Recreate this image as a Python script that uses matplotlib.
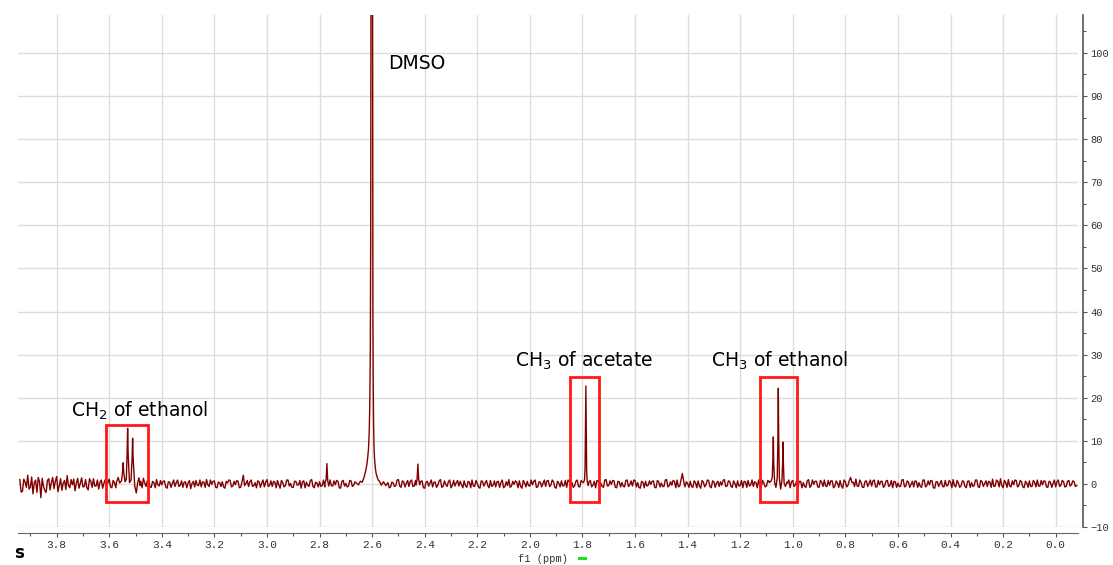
import numpy as np
import matplotlib.pyplot as plt
from matplotlib.patches import Rectangle
from matplotlib.ticker import MultipleLocator, FormatStrFormatter

plt.rcParams['font.family'] = ['DejaVu Sans']
plt.rcParams['mathtext.fontset'] = 'custom'
plt.rcParams['mathtext.rm'] = 'DejaVu Sans'

# baseline noise, one value every 0.01 ppm (3.94 -> -0.08)
base_noise = [
    1.0, -1.7, 0.4, 2.0, -0.8, -2.3, 0.9, 1.5, -3.2, -0.6,
    -2.0, 1.2, 0.3, -1.1, 1.7, -0.4, -1.5, 0.8, 1.9, -0.9,
    -0.2, -1.6, 1.3, 0.1, -0.7, 1.0, -1.4, 0.6, 1.2, -0.5,
    -1.2, 0.9, 0.2, -0.6, 1.1, -0.9, 0.3, -1.1, 0.7, 0.1,
    0.2, -0.6, 0.5, -0.4, 0.3, -0.7, 0.6, 1.3, -0.6, 0.9,
    -0.8, 0.3, 1.0, -0.5, -0.2, 0.7, -1.0, 0.4, 0.1, -0.6,
    0.9, -0.3, -0.8, 0.5, 0.2, -1.1, 0.6, 0.8, -0.4, -0.7,
    0.4, 1.0, -0.6, -0.1, 0.7, -0.9, 0.3, 0.5, -1.0, 0.2,
    0.8, -0.5, -0.2, 0.6, -0.8, 2.0, 0.1, -0.6, 0.9, -0.4,
    -0.9, 0.5, 0.2, -0.7, 1.0, -0.3, -0.6, 0.4, 0.8, -1.0,
    0.3, -0.4, 0.9, 0.1, -0.8, 0.6, -0.2, -1.0, 0.7, 0.4,
    -0.6, 1.0, -0.9, 0.2, 0.5, -0.4, -0.7, 0.3, 0.9, -0.5,
    -0.2, 0.6, -1.0, 0.8, 0.1, -0.5, 0.7, -0.3, -0.8, 0.5,
    0.5, -0.3, 0.6, -0.4, 0.5, -0.3, 0.4, -0.5, 0.6, -0.4,
    0.8, -0.7, 0.2, -0.4, 1.0, -0.8, 0.5, 0.1, -0.6, 0.9,
    -0.5, 0.3, -0.2, 0.7, -1.0, 0.6, 0.2, -0.7, 0.4, -0.3,
    1.0, -0.6, -0.1, 0.5, -0.9, 0.8, 0.3, -0.5, -0.2, 0.7,
    -0.8, 0.4, 0.9, -0.6, 0.1, -1.0, 0.6, 0.2, -0.4, 0.8,
    -0.3, -0.7, 0.6, 0.3, -0.9, 0.5, 1.0, -0.5, -0.1, 0.4,
    0.7, -1.0, 0.2, 0.6, -0.5, -0.2, 0.9, -0.7, 0.4, 0.1,
    -0.6, 0.8, -0.3, 0.5, -1.0, 0.2, 0.7, -0.4, -0.8, 0.6,
    0.3, -0.5, 0.9, -0.7, 0.4, 0.1, -0.6, 0.8, -0.3, -0.9,
    0.6, 0.2, -0.8, 1.0, -0.4, -0.1, 0.7, -0.9, 0.5, 0.3,
    -0.7, 0.9, -0.2, -0.5, 0.8, 0.3, -1.0, 0.4, 0.6, -0.3,
    -0.1, 0.7, -0.9, 0.5, 0.2, -0.6, 1.0, -0.4, -0.3, 0.6,
    0.9, -0.5, 2.4, -0.7, 0.1, 0.6, -0.8, 0.3, 0.7, -1.0,
    0.4, -0.2, 0.8, -0.9, 0.5, 0.2, -0.6, -0.3, 1.0, -0.5,
    0.6, -0.8, 0.1, 0.7, -0.4, -0.9, 0.5, 0.8, -0.2, -0.6,
    0.3, 0.9, -0.7, 0.2, -0.5, 0.6, -1.0, 0.4, 0.7, -0.3,
    -0.6, 0.5, 0.2, -0.9, 0.8, -0.2, -0.5, 0.6, 0.3, -0.8,
    1.0, -0.4, -0.1, 0.6, -0.8, 0.4, 0.9, -0.6, -0.3, 0.7,
    -0.5, 0.2, 0.8, -1.0, 0.5, -0.3, 1.5, 0.4, 1.1, -0.6,
    0.3, -0.8, 0.7, 0.1, -0.5, 0.9, -0.7, -0.2, 0.6, -0.4,
    0.8, -0.3, -0.9, 0.5, 0.2, -0.6, 1.0, -0.5, 0.4, -0.1,
    -0.7, 0.6, 0.3, -0.8, 0.9, -0.4, -0.2, 0.7, -1.0, 0.5,
    0.1, -0.6, 0.8, -0.3, 0.4, 1.0, -0.7, 0.2, -0.5, 0.6,
    -0.9, 0.7, 0.3, -0.4, 0.9, -0.8, 0.5, 0.1, -0.6, 0.4,
    1.1, -0.5, 0.6, 1.2, -0.9, 0.3, 1.0, -0.7, -0.2, 0.8,
    -0.4, 0.5, -0.9, 0.2, 0.7, -0.6, 0.3, 0.9, -0.5, -0.2,
    0.6, -0.8, 0.4, 0.1, -0.7, 0.9, -0.3, 0.5, -0.6, 0.8,
    -0.2, 0.5, -0.4,
]
base_ppm = np.linspace(3.94, -0.08, len(base_noise))

# noise between those samples (3.935 -> -0.075)
mid_noise = [
    -1.9, 1.1, -0.8, -1.2, 1.6, 0.3, -2.0, 0.5, 1.3, -1.5,
    0.8, -1.4, 1.5, 0.6, -1.8, 1.2, 0.2, -1.3, -0.4, 1.0,
    1.1, 0.2, -1.0, 1.4, -0.6, -0.9, 1.2, -0.8, -0.5, 0.9,
    0.4, -1.0, 1.0, 0.3, -0.7, 0.8, -0.9, 0.5, -0.4, 0.9,
    -0.5, 0.7, -0.8, 0.4, 1.0, -0.3, -0.9, 0.2, 0.8, -0.7,
    0.6, -0.9, -0.2, 0.8, 0.6, -0.7, 0.5, -0.8, 0.9, 0.3,
    -0.6, 0.7, 0.4, -0.9, 0.8, 0.1, -0.7, -0.3, 0.9, 0.5,
    -0.8, -0.2, 0.9, 0.6, -0.8, 0.4, -0.6, -0.7, 0.6, 0.9,
    -0.7, 0.6, 0.8, -0.9, 0.5, -0.4, 0.8, 0.5, -0.6, 0.3,
    0.7, -0.8, 0.9, 0.4, -0.6, 0.7, 0.6, -0.9, -0.2, 0.8,
    -0.7, 0.9, -0.5, -0.8, 0.6, -0.3, 0.8, 0.5, -0.9, -0.3,
    0.8, -0.6, 0.4, -0.7, -0.6, 0.9, 0.5, -0.8, -0.4, 0.7,
    0.8, -0.9, 0.6, -0.5, -0.7, 0.8, -0.6, 0.5, 0.7, -0.8,
    -0.4, 0.5, -0.5, 0.6, -0.4, 0.6, -0.5, 0.4, -0.5, 0.6,
    -0.9, 0.4, -0.6, 0.9, -0.5, 0.7, -0.7, 0.8, 0.6, -0.6,
    0.8, -0.7, 0.6, -0.9, 0.4, -0.5, 0.9, 0.4, -0.8, 0.7,
    -0.8, 0.7, -0.6, 0.9, -0.4, -0.5, 0.8, 0.6, -0.9, -0.4,
    0.6, -0.9, -0.5, 0.8, -0.7, 0.7, -0.5, 0.8, -0.9, -0.6,
    0.7, 0.5, -0.8, 0.9, -0.6, -0.4, -0.8, 0.6, 0.7, -0.9,
    -0.6, 0.8, -0.7, -0.4, 0.9, 0.6, -0.8, 0.5, -0.7, 0.9,
    0.7, -0.6, 0.9, -0.8, 0.6, -0.7, -0.5, 0.8, 0.9, -0.4,
    -0.8, 0.6, -0.6, 0.8, -0.9, 0.7, 0.5, -0.7, 0.6, 0.8,
    -0.7, -0.6, 0.9, -0.5, 0.7, 0.8, -0.8, 0.6, -0.7, -0.5,
    0.8, -0.6, 0.7, 0.9, -0.7, -0.8, 0.6, -0.9, -0.5, 0.7,
    0.6, -0.8, 0.8, -0.7, -0.6, 0.9, -0.7, 0.5, 0.8, -0.9,
    -0.7, 0.9, 0.6, 0.5, -0.8, -0.6, 0.7, -0.9, -0.5, 0.8,
    -0.7, 0.9, -0.6, 0.7, -0.8, 0.6, 0.5, 0.8, -0.6, 0.7,
    -0.6, 0.7, -0.9, -0.5, 0.8, 0.6, -0.8, -0.5, 0.9, 0.5,
    -0.9, -0.4, 0.8, -0.7, 0.8, -0.6, 0.7, -0.8, -0.5, 0.9,
    0.7, -0.8, 0.9, 0.5, -0.6, 0.7, 0.6, -0.9, -0.6, 0.7,
    -0.8, 0.9, 0.6, -0.7, 0.8, -0.6, -0.5, 0.8, 0.7, -0.9,
    0.7, -0.8, -0.5, 0.9, -0.7, 0.8, 0.3, -0.6, -0.5, 0.9,
    -0.8, 0.6, -0.6, 0.9, 0.7, -0.7, 0.8, 0.6, -0.8, 0.7,
    -0.6, 0.8, 0.6, -0.8, -0.6, 0.9, -0.7, 0.7, -0.8, 0.6,
    0.7, -0.8, -0.6, 0.9, -0.7, 0.7, 0.8, -0.9, 0.5, -0.6,
    0.8, -0.7, -0.5, 0.8, -0.9, -0.4, 0.8, -0.8, 0.7, -0.6,
    0.6, -0.8, -0.6, 0.9, -0.7, 0.8, -0.6, 0.7, 0.6, -0.8,
    -0.6, 0.9, -0.7, -0.4, 0.8, -0.8, -0.5, 0.7, 0.9, -0.7,
    0.8, -0.7, 0.6, -0.8, -0.6, 0.8, -0.7, -0.5, 0.8, 0.7,
    -0.7, 0.6, -0.8, 0.9, 0.5, -0.6, 0.8, -0.7, 0.6, -0.5,
    0.7, -0.6,
]
mid_ppm = np.linspace(3.935, -0.075, len(mid_noise))

# CH2 of ethanol (quartet)
ch2_ppm = [3.572, 3.566, 3.560, 3.553, 3.549, 3.547, 3.545, 3.540, 3.535, 3.532,
           3.530, 3.528, 3.523, 3.517, 3.513, 3.511, 3.509, 3.503, 3.497, 3.492,
           3.487, 3.482]
ch2_int = [0.4, 1.5, 0.2, 0.8, 3.0, 4.9, 2.8, 0.5, 1.0, 7.0,
           12.9, 7.0, 0.3, 0.9, 6.0, 10.6, 6.0, -0.5, -2.1, 0.2,
           1.4, -0.4]

# DMSO
dmso_ppm = [2.662, 2.652, 2.645, 2.638, 2.632, 2.628, 2.624, 2.620, 2.617, 2.614,
            2.611, 2.609, 2.607, 2.6055, 2.6045, 2.6035, 2.603, 2.602, 2.601,
            2.600, 2.599, 2.5985, 2.598, 2.5975, 2.597, 2.596, 2.5945, 2.593,
            2.591, 2.588, 2.585, 2.581, 2.577, 2.572, 2.565, 2.557, 2.548, 2.540]
dmso_int = [0.3, -0.2, 0.6, 0.4, 1.3, 2.2, 3.2, 4.5, 6.0, 8.0,
            12.0, 18.0, 30.0, 55.0, 100.0, 160.0, 220.0, 500.0, 1000.0,
            500.0, 200.0, 130.0, 90.0, 60.0, 40.0, 25.0, 14.0, 9.0,
            6.0, 3.8, 2.5, 1.6, 0.9, 0.6, -0.3, 0.5, -0.4, 0.3]

# small impurity lines
imp1_ppm = [2.779, 2.775, 2.772, 2.769, 2.765]
imp1_int = [0.2, 1.0, 4.7, 0.8, -0.5]
imp2_ppm = [2.433, 2.429, 2.426, 2.423, 2.419]
imp2_int = [-0.3, 1.0, 4.6, 1.1, -0.2]

# CH3 of acetate (singlet)
ac_ppm = [1.796, 1.792, 1.790, 1.7885, 1.787, 1.7855, 1.784, 1.782, 1.778]
ac_int = [0.3, 1.0, 3.5, 12.0, 22.7, 12.0, 3.0, 0.6, -0.4]

# CH3 of ethanol (triplet)
ch3_ppm = [1.090, 1.083, 1.078, 1.0755, 1.074, 1.0725, 1.069, 1.064, 1.059, 1.0565,
           1.055, 1.0535, 1.051, 1.046, 1.041, 1.0385, 1.037, 1.0355, 1.033, 1.028,
           1.022]
ch3_int = [0.3, 0.6, 1.5, 6.0, 10.9, 5.0, 0.3, -0.8, 1.5, 11.0,
           22.2, 11.0, 1.2, -1.2, 1.0, 5.0, 9.7, 4.5, 0.2, -0.6,
           0.4]

# annotation boxes: (ppm left, ppm right, bottom, top)
box_ch2 = (3.613, 3.453, -4.3, 13.7)
box_ac = (1.849, 1.737, -4.3, 24.8)
box_ch3 = (1.124, 0.983, -4.3, 24.8)

# merge baseline and peak segments into one trace
peaks = [(ch2_ppm, ch2_int), (dmso_ppm, dmso_int), (imp1_ppm, imp1_int),
         (imp2_ppm, imp2_int), (ac_ppm, ac_int), (ch3_ppm, ch3_int)]
all_ppm = np.concatenate([base_ppm, mid_ppm])
all_noise = np.concatenate([base_noise, mid_noise])
keep = np.ones(len(all_ppm), dtype=bool)
for p, _ in peaks:
    keep &= ~((all_ppm <= max(p)) & (all_ppm >= min(p)))
ppm = np.concatenate([all_ppm[keep]] + [np.array(p) for p, _ in peaks])
inten = np.concatenate([all_noise[keep]] + [np.array(v) for _, v in peaks])
order = np.argsort(-ppm)
ppm, inten = ppm[order], inten[order]

fig = plt.figure(figsize=(11.13, 5.65), dpi=100)
ax = fig.add_axes([0.01617, 0.06726, 0.9524, 0.9062])

ax.plot(ppm, inten, color='#800000', lw=1.0)

ax.set_xlim(3.947, -0.085)
ax.set_ylim(-10, 108.8)

ax.xaxis.set_major_locator(MultipleLocator(0.2))
ax.xaxis.set_minor_locator(MultipleLocator(0.1))
ax.xaxis.set_major_formatter(FormatStrFormatter('%.1f'))
ax.yaxis.set_major_locator(MultipleLocator(10))
ax.yaxis.set_minor_locator(MultipleLocator(5))
ax.yaxis.tick_right()

ax.grid(True, which='major', color='#dcdcdc', lw=1.0)
ax.set_axisbelow(True)

for s in ['top', 'left']:
    ax.spines[s].set_visible(False)
ax.spines['bottom'].set_position(('outward', 4.3))
ax.spines['bottom'].set_color('#666666')
ax.spines['right'].set_position(('outward', 3.6))
ax.spines['right'].set_color('#555555')
ax.spines['right'].set_linewidth(1.2)

ax.tick_params(axis='both', which='major', length=3, width=0.8, color='#555555',
               labelcolor='#333333', pad=2)
ax.tick_params(axis='x', which='major', labelsize=8)
ax.tick_params(axis='y', which='major', labelsize=7.5)
ax.tick_params(axis='both', which='minor', length=2, width=0.8, color='#555555')
for lab in ax.get_xticklabels() + ax.get_yticklabels():
    lab.set_family('Liberation Mono')

ax.set_xlabel('f1 (ppm)', family='Liberation Mono', fontsize=7.5, color='#333333')
ax.xaxis.set_label_coords(0.495, -0.053)

for x0, x1, y0, y1 in [box_ch2, box_ac, box_ch3]:
    ax.add_patch(Rectangle((x0, y0), x1 - x0, y1 - y0, fill=False,
                           edgecolor='#ff1a1a', lw=2.0, zorder=5))

ax.text(3.483, 15.6, 'CH$_\\mathregular{2}$ of ethanol', ha='center', va='baseline', fontsize=13.5)
ax.text(1.792, 27.1, 'CH$_\\mathregular{3}$ of acetate', ha='center', va='baseline', fontsize=13.5)
ax.text(1.051, 27.1, 'CH$_\\mathregular{3}$ of ethanol', ha='center', va='baseline', fontsize=13.5)
ax.text(2.429, 96.2, 'DMSO', ha='center', va='baseline', fontsize=13.5)

fig.text(0.0126, 0.013, 's', fontsize=12, fontweight='bold')
fig.patches.append(Rectangle((0.5193, 0.0088), 0.0081, 0.0053, transform=fig.transFigure,
                             facecolor='#22dd22', edgecolor='none'))

plt.savefig('out.png', dpi=100)
